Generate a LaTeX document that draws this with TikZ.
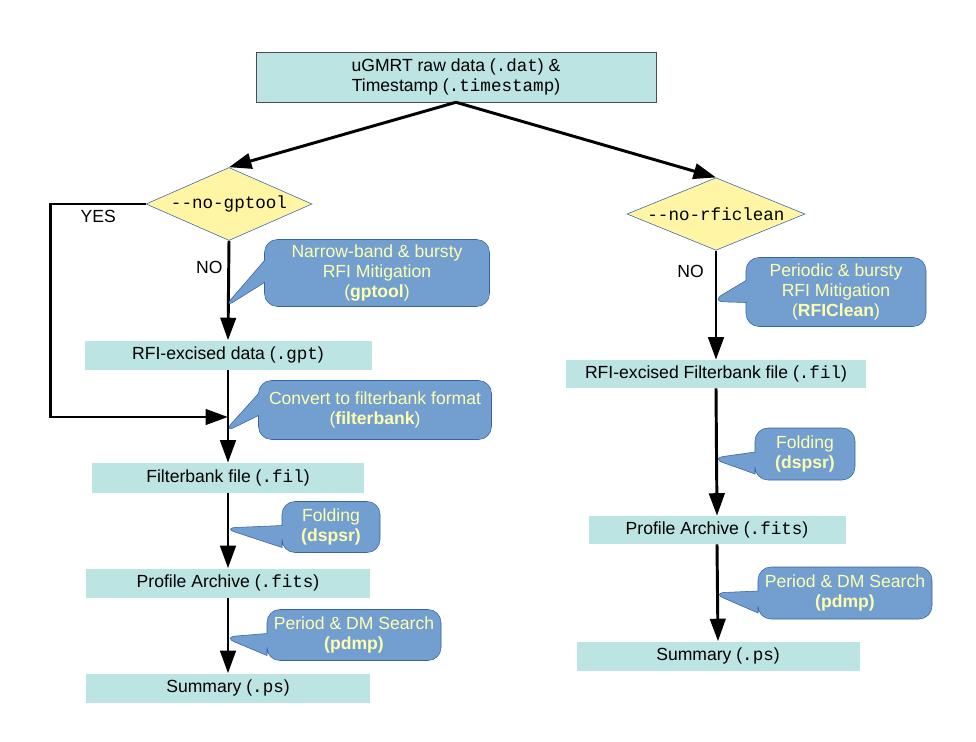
\documentclass[tikz,border=0pt]{standalone}
\usepackage{fontspec}
\setmainfont{Liberation Sans}
\setmonofont{Liberation Mono}
\usepackage{tikz}
\usetikzlibrary{shapes.geometric,shapes.callouts,arrows.meta,positioning}

\definecolor{boxfill}{HTML}{BCE4E2}
\definecolor{decfill}{HTML}{FFF5A5}
\definecolor{callfill}{HTML}{729FCF}
\definecolor{callline}{HTML}{3465A4}
\definecolor{calltext}{HTML}{FFFFB0}

\newdimen\dpx
\dpx=0.025cm

\begin{document}
\begin{tikzpicture}[
	x=0.025cm, y=-0.025cm,
	font=\fontsize{12.5}{14}\selectfont,
	box/.style = {rectangle, fill=boxfill, inner sep=0pt,
		minimum height=29\dpx},
	topbox/.style = {box, draw=black!70, align=center,
		minimum width=400\dpx, minimum height=50\dpx},
	dec/.style = {diamond, fill=decfill, draw=callline, thin,
		inner sep=0pt, shape aspect=2.3},
	call/.style = {rectangle callout, rounded corners=13\dpx,
		fill=callfill, draw=callline, text=calltext, align=center,
		inner sep=0pt, callout pointer width=22\dpx,
		callout pointer shorten=-6\dpx},      % <--- tip is rounded off, so push it out a bit
	flow/.style = {line width=2.1pt, -{Triangle[length=16pt,width=11pt]}},
	]
	\useasboundingbox (0,0) rectangle (976,742);

	\node[topbox] (raw) at (456,77) {uGMRT raw data (\texttt{.dat}) \&\\ Timestamp (\texttt{.timestamp})};

	% decisions
	\node[dec, minimum width=166\dpx, minimum height=73\dpx] (gp) at (229,204) {\texttt{-{}-no-gptool}};
	\node[dec, minimum width=178\dpx, minimum height=65\dpx] (rc) at (716,214) {\texttt{-{}-no-rficlean}};

	% left branch
	\node[box, minimum width=287\dpx] (gpt)  at (228,355) {RFI-excised data (\texttt{.gpt})};
	\node[box, minimum width=272\dpx, minimum height=30\dpx] (fil) at (228,478) {Filterbank file (\texttt{.fil})};
	\node[box, minimum width=284\dpx] (prof) at (228,583) {Profile Archive (\texttt{.fits})};
	\node[box, minimum width=284\dpx] (summ) at (228,688) {Summary (\texttt{.ps})};

	% right branch
	\node[box, minimum width=300\dpx, minimum height=28\dpx] (rfil) at (716,374) {RFI-excised Filterbank file (\texttt{.fil})};
	\node[box, minimum width=257\dpx, minimum height=28\dpx] (rprof) at (717,530) {Profile Archive (\texttt{.fits})};
	\node[box, minimum width=283\dpx] (rsumm) at (718,656) {Summary (\texttt{.ps})};

	\coordinate (join) at (228,417);

	\draw[flow] (raw.south) -- (gp.north);
	\draw[flow] (raw.south) -- (rc.north);

	\draw[flow] (gp.south) -- node[pos=0.27,left] {NO} (gpt.north);
	\draw[flow] (gp.west) -- ++(-95,0) node[midway,below] {YES} |- (join);
	\draw[flow] (gpt.south) -- (fil.north);
	\draw[flow] (fil.south) -- (prof.north);
	\draw[flow] (prof.south) -- (summ.north);

	\draw[flow] (rc.south) -- node[pos=0.19,left,xshift=-6\dpx] {NO} (rfil.north);
	\draw[flow] (rfil.south) -- (rprof.north);
	\draw[flow] (rprof.south) -- (rsumm.north);

	% tools
	\node[call, minimum width=225\dpx, minimum height=67\dpx,
		callout absolute pointer={(229,307)}] (cgp) at (377,273)
		{Narrow-band \& bursty\\ RFI Mitigation\\ (\textbf{gptool})};
	\node[call, minimum width=233\dpx, minimum height=59\dpx,
		callout absolute pointer={(229,432)}] (cfb) at (375,410)
		{Convert to filterbank format\\ (\textbf{filterbank})};
	\node[call, minimum width=98\dpx, minimum height=51\dpx,
		callout absolute pointer={(229,528)}] (cfold) at (331,527)
		{Folding\\ \textbf{(dspsr)}};
	\node[call, minimum width=174\dpx, minimum height=51\dpx,
		callout absolute pointer={(229,637)}] (cpdmp) at (354,635)
		{Period \& DM Search\\ \textbf{(pdmp)}};

	\node[call, minimum width=180\dpx, minimum height=69\dpx,
		callout absolute pointer={(717,301)}] (crc) at (836,292)
		{Periodic \& bursty\\ RFI Mitigation\\ (\textbf{RFIClean})};
	\node[call, minimum width=100\dpx, minimum height=52\dpx,
		callout absolute pointer={(717,458)}] (crfold) at (805,454)
		{Folding\\ \textbf{(dspsr)}};
	\node[call, minimum width=174\dpx, minimum height=52\dpx,
		callout absolute pointer={(718,593)}] (crpdmp) at (845,593)
		{Period \& DM Search\\ \textbf{(pdmp)}};
\end{tikzpicture}
\end{document}
